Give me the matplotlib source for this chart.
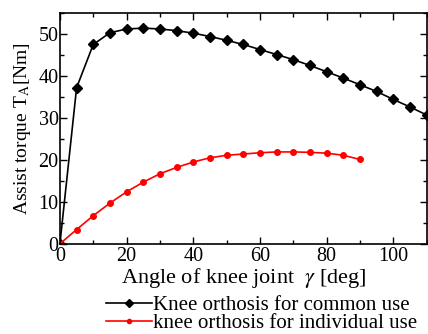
import matplotlib
matplotlib.use("Agg")
import matplotlib.pyplot as plt
from matplotlib.ticker import MultipleLocator
from matplotlib.lines import Line2D

plt.rcParams['font.family'] = ['Liberation Serif', 'DejaVu Serif']
plt.rcParams['mathtext.fontset'] = 'stix'

angle_common = [0, 5, 10, 15, 20, 25, 30, 35, 40, 45, 50, 55, 60, 65, 70, 75, 80, 85, 90, 95, 100, 105, 110]
torque_common = [0, 37.2, 47.5, 50.3, 51.2, 51.4, 51.2, 50.8, 50.2, 49.4, 48.5, 47.5, 46.3, 45.1, 43.9, 42.5,
                 41.0, 39.5, 37.9, 36.3, 34.4, 32.6, 30.7]
angle_indiv = [0, 5, 10, 15, 20, 25, 30, 35, 40, 45, 50, 55, 60, 65, 70, 75, 80, 85, 90]
torque_indiv = [0, 3.4, 6.7, 9.7, 12.4, 14.7, 16.7, 18.2, 19.5, 20.5, 21.1, 21.4, 21.7, 21.9, 21.9, 21.8, 21.6, 21.1, 20.1]

label_common = "Knee orthosis for common use"
label_indiv = "knee orthosis for individual use"

fig = plt.figure(figsize=(4.28, 3.34), dpi=100)
ax = fig.add_axes([0.140, 0.270, 0.857, 0.691])

ax.plot(angle_common, torque_common, color='black', lw=1.2, marker='D', ms=5.5)
ax.plot(angle_indiv, torque_indiv, color='red', lw=1.2, marker='o', ms=4)

ax.set_xlim(0, 110)
ax.set_ylim(0, 55)
ax.xaxis.set_major_locator(MultipleLocator(20))
ax.xaxis.set_minor_locator(MultipleLocator(10))
ax.yaxis.set_major_locator(MultipleLocator(10))
ax.yaxis.set_minor_locator(MultipleLocator(5))
ax.tick_params(which='both', direction='in', top=True, right=True, labelsize=14.5, width=1.0)
ax.tick_params(which='major', length=5)
ax.tick_params(which='minor', length=3)
ax.tick_params(axis='x', pad=2)
ax.tick_params(axis='y', pad=1)
for s in ax.spines.values():
    s.set_linewidth(1.2)

ax.set_xlabel(r"Angle of knee joint  $\gamma$ [deg]", fontsize=16, labelpad=0)
ax.set_ylabel(r"Assist torque T$_\mathrm{A}$[Nm]", fontsize=14, labelpad=4)

h1 = Line2D([], [], color='black', lw=1.2, marker='D', ms=4)
h2 = Line2D([], [], color='red', lw=1.2, marker='o', ms=3)
fig.legend(handles=[h1, h2], labels=[label_common, label_indiv], loc='upper left',
           bbox_to_anchor=(0.248, 0.116), frameon=False,
           fontsize=15, handlelength=2.2, handletextpad=0.05, labelspacing=-0.05,
           borderpad=0, borderaxespad=0)

fig.savefig("out.png", dpi=100)
